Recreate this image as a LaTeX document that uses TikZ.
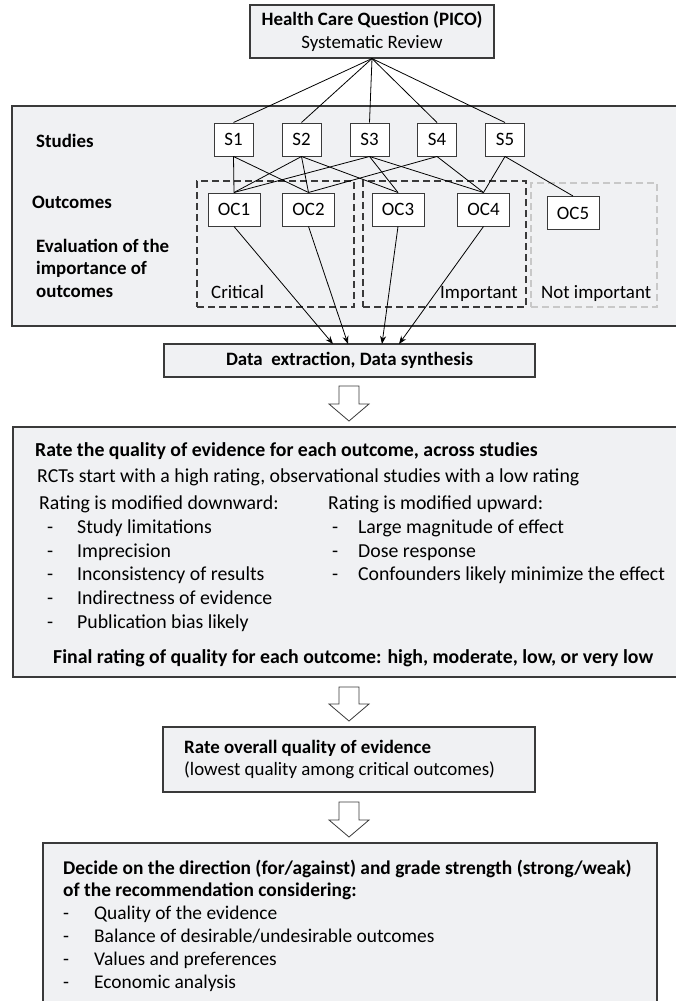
\documentclass[tikz,border=0pt]{standalone}
\usepackage{fontspec}
\setmainfont{Carlito}
\usetikzlibrary{arrows.meta,calc}
\definecolor{bordergray}{RGB}{58,58,58}
\definecolor{panelgray}{RGB}{240,241,243}
\definecolor{lightdash}{RGB}{200,200,200}
\newcommand{\hollowarr}[2]{%
  \draw[hollow] ($(#1)+(-10,0)$) -- ($(#1)+(10,0)$) -- ($(#2)+(10,-17)$) -- ($(#2)+(20,-17)$)
    -- (#2) -- ($(#2)+(-20,-17)$) -- ($(#2)+(-10,-17)$) -- cycle;}
\begin{document}
\begin{tikzpicture}[x=1pt,y=-1pt,
  font=\fontsize{18.9}{22.5}\selectfont,
  boxed/.style={draw=bordergray, fill=panelgray, line width=1.1pt, inner sep=0pt},
  sbox/.style={draw=bordergray, fill=white, line width=1pt, minimum width=39pt, minimum height=33pt, inner sep=0pt},
  ocbox/.style={sbox, minimum width=52pt},
  grp/.style={draw=bordergray, dash pattern=on 7pt off 4pt, line width=1.8pt, inner sep=0pt},
  link/.style={draw=black, line width=0.8pt},
  feed/.style={link, -{Stealth[length=8pt,width=6pt]}},
  txt/.style={inner sep=0pt, anchor=base west},
  bigtxt/.style={txt, font=\fontsize{19.8}{23.5}\selectfont},
  dectxt/.style={txt, font=\fontsize{19.4}{23}\selectfont},
  hollow/.style={draw=bordergray, fill=white, line width=0.8pt, line join=miter},
]
\useasboundingbox (0,0) rectangle (675,1001);

% panel with studies / outcomes
\node[boxed, minimum width=668pt, minimum height=220pt] (panel) at (346,216) {};
\node[boxed, minimum width=244pt, minimum height=53pt, align=center] (pico) at (372,31.5)
  {\textbf{Health Care Question (PICO)}\\Systematic Review};

\node[txt] (lstud) at (36,147.5) {\textbf{Studies}};
\node[txt] (lout) at (32,208.5) {\textbf{Outcomes}};
\node[txt] (lev1) at (36,252.5) {\textbf{Evaluation of the}};
\node[txt] (lev2) at (36,274.5) {\textbf{importance of}};
\node[txt] (lev3) at (36,297.5) {\textbf{outcomes}};

\node[grp, minimum width=157pt, minimum height=126pt] (crit) at (275.5,244) {};
\node[grp, minimum width=163pt, minimum height=126pt] (imp) at (444.5,244) {};
\node[grp, draw=lightdash, minimum width=126pt, minimum height=124pt] (nimp) at (594,245) {};
\node[txt] (lcrit) at (211,298.5) {Critical};
\node[txt, anchor=base east] (limp) at (518,298.5) {Important};
\node[txt] (lnimp) at (541,298.5) {Not important};

\foreach \i/\x in {1/233.5,2/301.5,3/369.5,4/437,5/505}
  \node[sbox] (s\i) at (\x,139.5) {S\i};
\node[ocbox] (oc1) at (234,209.5) {OC1};
\node[ocbox] (oc2) at (308.5,209.5) {OC2};
\node[ocbox] (oc3) at (398,209.5) {OC3};
\node[ocbox] (oc4) at (483.5,209.5) {OC4};
\node[ocbox] (oc5) at (573,213) {OC5};

\foreach \i in {1,...,5} \draw[link] (pico.south) -- (s\i.north);
\foreach \a/\b in {1/1,1/2,2/1,2/2,2/3,3/1,3/3,3/4,4/2,4/4,5/4,5/5}
  \draw[link] (s\a.south) -- (oc\b.north);

% data extraction
\node[boxed, minimum width=371pt, minimum height=33pt] (data) at (349.5,360.5)
  {\textbf{Data\ \ extraction, Data synthesis}};
\coordinate (d1) at (333,344);
\coordinate (d2) at (348,344);
\coordinate (d3) at (382,344);
\coordinate (d4) at (399,344);
\draw[feed] (oc1.south) -- (d1);
\draw[feed] (oc2.south) -- (d2);
\draw[feed] (oc3.south) -- (d3);
\draw[feed] (oc4.south) -- (d4);

% rate quality box
\node[boxed, minimum width=667pt, minimum height=250pt] (rate) at (346.5,552) {};
\node[bigtxt] (rt1) at (35,456.5) {\textbf{Rate the quality of evidence for each outcome, across studies}};
\node[bigtxt] (rt2) at (37,482.5) {RCTs start with a high rating, observational studies with a low rating};
\node[bigtxt] (dn0) at (39,509.5) {Rating is modified downward:};
\node[bigtxt] (dn1) at (47,533.3) {\makebox[30pt][l]{-}Study limitations};
\node[bigtxt] (dn2) at (47,557.1) {\makebox[30pt][l]{-}Imprecision};
\node[bigtxt] (dn3) at (47,580.9) {\makebox[30pt][l]{-}Inconsistency of results};
\node[bigtxt] (dn4) at (47,604.7) {\makebox[30pt][l]{-}Indirectness of evidence};
\node[bigtxt] (dn5) at (47,628.5) {\makebox[30pt][l]{-}Publication bias likely};
\node[bigtxt] (up0) at (328,509.5) {Rating is modified upward:};
\node[bigtxt] (up1) at (332,533.3) {\makebox[26pt][l]{-}Large magnitude of effect};
\node[bigtxt] (up2) at (332,557.1) {\makebox[26pt][l]{-}Dose response};
\node[bigtxt] (up3) at (332,580.9) {\makebox[26pt][l]{-}Confounders likely minimize the effect};
\node[bigtxt] (fin) at (53,663.5) {\textbf{Final rating of quality for each outcome: high, moderate, low, or very low}};

% overall quality
\node[boxed, minimum width=372pt, minimum height=65pt] (overall) at (349,759.5) {};
\node[txt] (ov1) at (184,753.5) {\textbf{Rate overall quality of evidence}};
\node[txt] (ov2) at (184,775.5) {(lowest quality among critical outcomes)};

% decide
\node[boxed, minimum width=614pt, minimum height=170pt] (decide) at (350,928) {};
\node[dectxt] (dc1) at (63,874.5) {\textbf{Decide on the direction (for/against) and grade strength (strong/weak)}};
\node[dectxt] (dc2) at (63,896.5) {\textbf{of the recommendation considering:}};
\node[dectxt] (dc3) at (63,919.5) {\makebox[31pt][l]{-}Quality of the evidence};
\node[dectxt] (dc4) at (63,942.5) {\makebox[31pt][l]{-}Balance of desirable/undesirable outcomes};
\node[dectxt] (dc5) at (63,965.5) {\makebox[31pt][l]{-}Values and preferences};
\node[dectxt] (dc6) at (63,988.5) {\makebox[31pt][l]{-}Economic analysis};

% hollow arrows
\coordinate (h1a) at (349,386); \coordinate (h1b) at (349,421);
\coordinate (h2a) at (349,687); \coordinate (h2b) at (349,721);
\coordinate (h3a) at (349,802); \coordinate (h3b) at (349,837);
\hollowarr{h1a}{h1b}
\hollowarr{h2a}{h2b}
\hollowarr{h3a}{h3b}
\end{tikzpicture}
\end{document}
